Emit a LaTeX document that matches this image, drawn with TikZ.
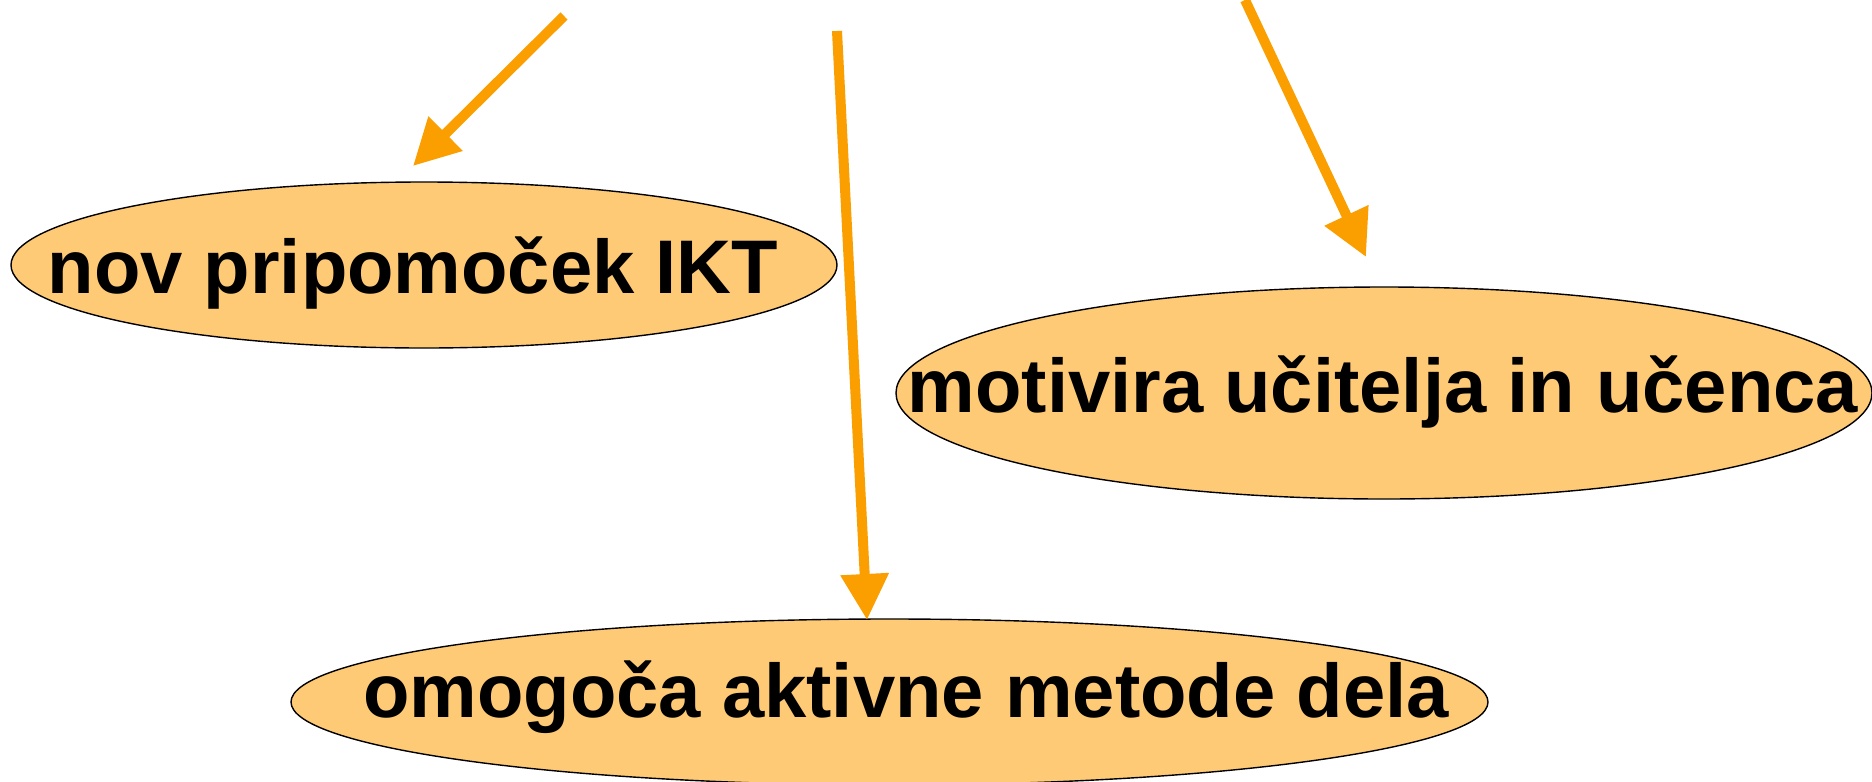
\documentclass[tikz,border=0pt]{standalone}
\usepackage{fontspec}
\setmainfont{Liberation Sans}
\usetikzlibrary{shapes.geometric,arrows.meta}
\definecolor{ellfill}{HTML}{FECA76}
\definecolor{arrorange}{HTML}{FB9F00}
\tikzset{
  ell/.style={ellipse, draw=black, line width=1.4pt, fill=ellfill, inner sep=0pt, outer sep=0pt},
  lbl/.style={anchor=base, inner sep=0pt, font=\fontsize{76}{80}\selectfont\bfseries},
  arr/.style={draw=arrorange, line width=10pt, line cap=butt, -{Triangle[length=46pt,width=46pt]}, color=arrorange}
}
\begin{document}
\begin{tikzpicture}[x=1pt,y=-1pt]
\useasboundingbox (0,0) rectangle (1872,782);
\fill[white] (0,0) rectangle (1872,782);
\begin{scope}
\clip (0,0) rectangle (1872,782);
% ellipses
\node[ell, minimum width=826pt, minimum height=166pt] (e1) at (424,265) {};
\node[ell, minimum width=976pt, minimum height=212pt] (e2) at (1384,393) {};
\node[ell, minimum width=1197pt, minimum height=166pt] (e3) at (889.5,702) {};
% labels
\node[lbl] (l1) at (413,293) {nov pripomoček IKT};
\node[lbl] (l2) at (1383,412) {motivira učitelja in učenca};
\node[lbl] (l3) at (906,717) {omogoča aktivne metode dela};
% arrows
\coordinate (t1) at (564,16);
\coordinate (h1) at (413,166);
\coordinate (t2) at (837,31);
\coordinate (h2) at (867,620);
\coordinate (t3) at (1245,0);
\coordinate (h3) at (1366,257);
\draw[arr] (t1) -- (h1);
\draw[arr] (t2) -- (h2);
\draw[arr] (t3) -- (h3);
\end{scope}
\end{tikzpicture}
\end{document}
